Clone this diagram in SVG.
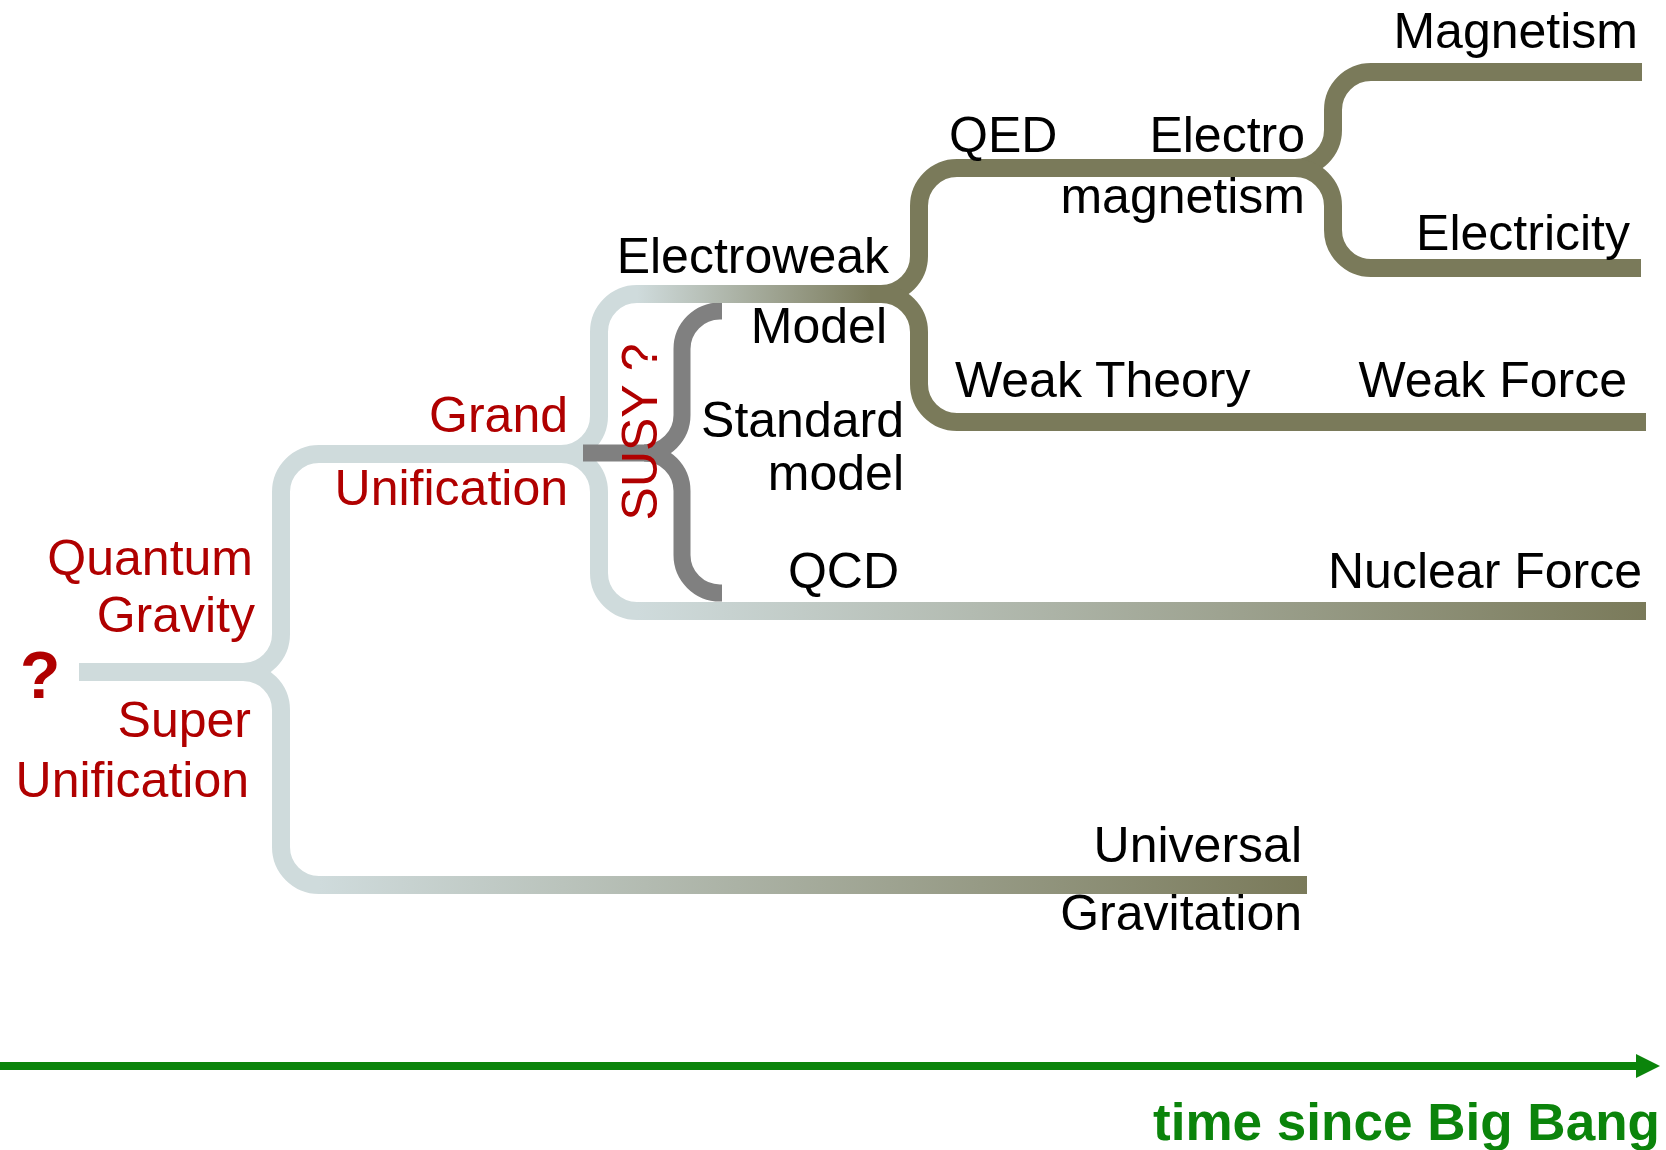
<svg xmlns="http://www.w3.org/2000/svg" width="1666" height="1150" viewBox="0 0 1666 1150">
<style>
.t{font-family:"Liberation Sans",Arial,sans-serif;font-size:50px;fill:#000}
.r{fill:#b00000}
.e{text-anchor:end}
.ln{fill:none;stroke-width:18}
.light{stroke:#cfdbdc}
.olive{stroke:#7a7a5a}
.grey{fill:none;stroke:#808080;stroke-width:17}
</style>
<defs>
<linearGradient id="gEW" gradientUnits="userSpaceOnUse" x1="637" y1="0" x2="875" y2="0">
<stop offset="0" stop-color="#cfdbdc"/><stop offset="1" stop-color="#7a7a5a"/>
</linearGradient>
<linearGradient id="gNuc" gradientUnits="userSpaceOnUse" x1="637" y1="0" x2="1646" y2="0">
<stop offset="0" stop-color="#cfdbdc"/><stop offset="1" stop-color="#7a7a5a"/>
</linearGradient>
<linearGradient id="gGrav" gradientUnits="userSpaceOnUse" x1="319" y1="0" x2="1307" y2="0">
<stop offset="0" stop-color="#cfdbdc"/><stop offset="1" stop-color="#7a7a5a"/>
</linearGradient>
<marker id="arrow" markerUnits="userSpaceOnUse" markerWidth="26" markerHeight="26" refX="0" refY="12" orient="auto">
<path d="M0,0 L24,12 L0,24 Z" fill="#0b840b"/>
</marker>
</defs>

<g id="connectors">
<path class="ln light" d="M79,672 H243 A38,38 0 0 0 281,634 V492 A38,38 0 0 1 319,454 H561 A38,38 0 0 0 599,416 V332 A38,38 0 0 1 637,294"/>
<path class="ln light" d="M561,454 A38,38 0 0 1 599,492 V573 A38,38 0 0 0 637,611"/>
<path class="ln light" d="M243,672 A38,38 0 0 1 281,710 V847 A38,38 0 0 0 319,885"/>
<path class="ln" stroke="url(#gGrav)" d="M318,885 H1307"/>
<path class="ln" stroke="url(#gNuc)" d="M636,611 H1646"/>
<path class="grey" d="M583,453 H644 A38,38 0 0 0 682,415 V349 A38,38 0 0 1 720,311 H722"/>
<path class="grey" d="M644,453 A38,38 0 0 1 682,491 V555 A38,38 0 0 0 720,593 H722"/>
<path class="ln" stroke="url(#gEW)" d="M636,294 H882"/>
<path class="ln olive" d="M870,294 H881 A38,38 0 0 0 919,256 V206 A38,38 0 0 1 957,168 H1295 A38,38 0 0 0 1333,130 V110 A38,38 0 0 1 1371,72 H1642"/>
<path class="ln olive" d="M1295,168 A38,38 0 0 1 1333,206 V230 A38,38 0 0 0 1371,268 H1641"/>
<path class="ln olive" d="M881,294 A38,38 0 0 1 919,332 V384 A38,38 0 0 0 957,422 H1646"/>
<path d="M0,1066 H1636" stroke="#0b840b" stroke-width="8" fill="none" marker-end="url(#arrow)"/>
</g>

<g id="node-origin"><text x="20" y="698" style="font-family:'Liberation Sans',Arial,sans-serif;font-size:66px;font-weight:bold;fill:#b00000">?</text></g>
<g id="node-quantum-gravity"><text class="t r e" x="253" y="575">Quantum</text><text class="t r e" x="255" y="632">Gravity</text></g>
<g id="node-super-unification"><text class="t r e" x="251" y="737">Super</text><text class="t r e" x="249" y="797">Unification</text></g>
<g id="node-grand-unification"><text class="t r e" x="568" y="432">Grand</text><text class="t r e" x="568" y="505">Unification</text></g>
<g id="node-susy"><text class="t r" text-anchor="middle" transform="translate(657,432) rotate(-90)">SUSY ?</text></g>
<g id="node-electroweak"><text class="t e" x="889" y="273">Electroweak</text></g>
<g id="node-standard-model"><text class="t e" x="887" y="343">Model</text><text class="t e" x="904" y="437">Standard</text><text class="t e" x="904" y="490">model</text></g>
<g id="node-qcd"><text class="t e" x="899" y="588">QCD</text></g>
<g id="node-qed"><text class="t" x="949" y="152">QED</text></g>
<g id="node-electromagnetism"><text class="t e" x="1305" y="152">Electro</text><text class="t e" x="1305" y="213">magnetism</text></g>
<g id="node-magnetism"><text class="t e" x="1638" y="48">Magnetism</text></g>
<g id="node-electricity"><text class="t e" x="1630" y="250">Electricity</text></g>
<g id="node-weak-theory"><text class="t" x="955" y="397">Weak Theory</text></g>
<g id="node-weak-force"><text class="t e" x="1627" y="397">Weak Force</text></g>
<g id="node-nuclear-force"><text class="t e" x="1642" y="588">Nuclear Force</text></g>
<g id="node-gravitation"><text class="t e" x="1302" y="862">Universal</text><text class="t e" x="1302" y="930">Gravitation</text></g>
<g id="axis-label"><text x="1153" y="1140" textLength="507" lengthAdjust="spacingAndGlyphs" style="font-family:'Liberation Sans',Arial,sans-serif;font-size:51px;font-weight:bold;fill:#0b840b">time since Big Bang</text></g>
</svg>
